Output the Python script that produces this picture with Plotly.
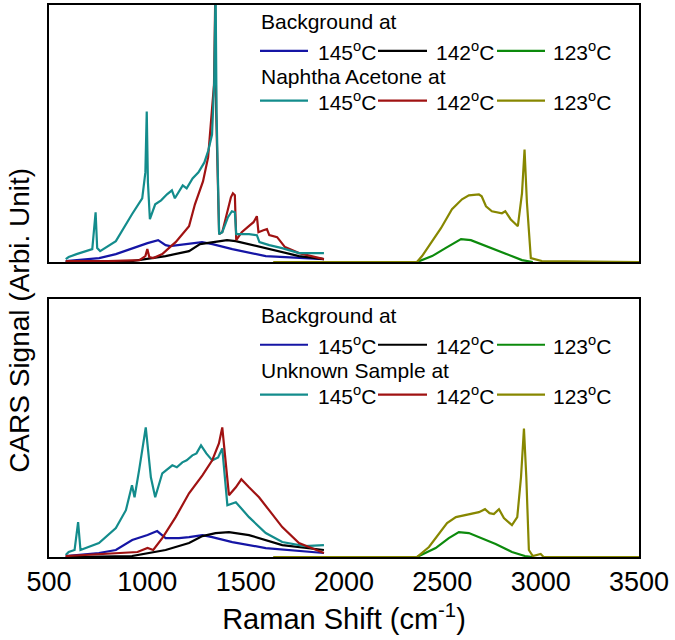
import plotly.graph_objects as go
from plotly.subplots import make_subplots

# ---------------- data (Raman shift cm^-1, arbitrary signal units) ----------------
# Top panel: background + Naphtha Acetone
top_bg145_x = [585, 755, 840, 922, 1001, 1055, 1093, 1115, 1160, 1212, 1278, 1331, 1432, 1602, 1898]
top_bg145_y = [1, 4, 8, 14, 19, 22, 17, 16, 17, 18, 20, 18, 13, 6, 3]
top_bg142_x = [585, 922, 1093, 1212, 1268, 1330, 1405, 1449, 1602, 1771, 1898]
top_bg142_y = [0, 1, 6, 11, 18, 20, 22, 21, 14, 6, 3]
top_bg123_x = [2371, 2448, 2516, 2595, 2645, 2722, 2820, 2905, 2960]
top_bg123_y = [0, 6, 14, 23, 22, 16, 8, 2, 0]

top_s145_x = [585, 600, 640, 720, 737, 745, 760, 840, 922, 974, 990, 997, 1003, 1013,
              1040, 1070, 1100, 1125, 1140, 1160, 1180, 1200, 1230, 1260, 1290, 1310, 1329,
              1340, 1347, 1352, 1365, 1381, 1410, 1430, 1445, 1452, 1517, 1557, 1570, 1620,
              1685, 1771, 1898]
top_s145_y = [3, 5, 8, 13, 50, 14, 11, 21, 48, 64, 90, 151, 80, 43,
              58, 62, 68, 72, 64, 70, 77, 74, 84, 90, 100, 112, 128,
              180, 275, 150, 28, 30, 45, 51, 50, 28, 28, 27, 20, 17,
              14, 9, 9]
top_s142_x = [585, 800, 960, 990, 1000, 1010, 1030, 1076, 1115, 1144, 1212, 1242, 1283, 1309,
              1339, 1345, 1350, 1365, 1381, 1400, 1425, 1435, 1445, 1452, 1480, 1522, 1540,
              1557, 1565, 1590, 1608, 1620, 1660, 1700, 1771, 1898]
top_s142_y = [1, 1, 2, 6, 13, 5, 4, 8, 15, 20, 36, 58, 81, 105,
              178, 262, 150, 28, 30, 45, 65, 69, 67, 22, 30, 37, 40,
              46, 30, 32, 33, 27, 25, 15, 9, 3]
top_s123_x = [1640, 2360, 2371, 2397, 2448, 2493, 2549, 2600, 2635, 2686, 2700, 2722, 2752,
              2803, 2820, 2847, 2884, 2905, 2918, 2930, 2950, 3006, 3500]
top_s123_y = [0, 0, 0, 6, 21, 34, 53, 63, 67, 68, 66, 56, 51,
              49, 51, 43, 36, 69, 113, 60, 4, 1, 0]

# Bottom panel: background + Unknown Sample
bot_bg145_x = [585, 754, 840, 923, 1001, 1050, 1093, 1161, 1212, 1280, 1330, 1432, 1602, 1898]
bot_bg145_y = [1, 4, 7, 17, 22, 26, 19, 19, 20, 22, 20, 15, 9, 4]
bot_bg142_x = [585, 922, 1093, 1212, 1280, 1347, 1415, 1517, 1686, 1898]
bot_bg142_y = [0, 1, 7, 14, 21, 24, 25, 22, 12, 7]
bot_bg123_x = [2371, 2466, 2533, 2584, 2635, 2686, 2771, 2854, 2920, 2960]
bot_bg123_y = [0, 9, 19, 25, 24, 20, 13, 5, 1, 0]

bot_s145_x = [585, 600, 630, 648, 660, 690, 754, 840, 891, 922, 935, 958, 992, 1018, 1040,
              1076, 1100, 1127, 1150, 1178, 1200, 1229, 1250, 1273, 1300, 1330, 1360, 1381,
              1407, 1450, 1517, 1602, 1686, 1800, 1898]
bot_s145_y = [2, 5, 7, 35, 7, 9, 14, 29, 47, 72, 60, 87, 130, 80, 60,
              84, 88, 92, 90, 95, 97, 102, 104, 112, 104, 97, 100, 109,
              52, 55, 40, 24, 15, 11, 12]
bot_s142_x = [585, 950, 1001, 1030, 1076, 1144, 1212, 1280, 1330, 1364, 1381, 1398, 1415,
              1450, 1478, 1517, 1568, 1619, 1686, 1771, 1898]
bot_s142_y = [1, 5, 9, 7, 19, 40, 64, 82, 97, 114, 130, 94, 62,
              70, 78, 70, 60, 47, 30, 14, 4]
bot_s123_x = [1640, 2360, 2371, 2432, 2483, 2524, 2569, 2635, 2686, 2717, 2740, 2762, 2788,
              2813, 2854, 2881, 2900, 2915, 2927, 2940, 2960, 3000, 3015, 3500]
bot_s123_y = [0, 0, 0, 10, 24, 34, 40, 43, 45, 48, 44, 43, 48,
              39, 32, 40, 80, 129, 80, 7, 1, 3, 0, 0]

x_ticks = [500, 1000, 1500, 2000, 2500, 3000, 3500]
temps = ["145<sup>o</sup>C", "142<sup>o</sup>C", "123<sup>o</sup>C"]
bg_colors = ["#1515A5", "#000000", "#0C8A0C"]
s_colors = ["#138C8C", "#A01212", "#878700"]

FONT = "Arial, Liberation Sans, sans-serif"

fig = make_subplots(rows=2, cols=1, vertical_spacing=0.0)

panels = [
    (1, [(top_bg145_x, top_bg145_y), (top_bg142_x, top_bg142_y), (top_bg123_x, top_bg123_y)],
        [(top_s142_x, top_s142_y, 1), (top_s145_x, top_s145_y, 0), (top_s123_x, top_s123_y, 2)]),
    (2, [(bot_bg145_x, bot_bg145_y), (bot_bg142_x, bot_bg142_y), (bot_bg123_x, bot_bg123_y)],
        [(bot_s145_x, bot_s145_y, 0), (bot_s142_x, bot_s142_y, 1), (bot_s123_x, bot_s123_y, 2)]),
]
for row, bgs, ss in panels:
    for (xs, ys), c, t in zip(bgs, bg_colors, temps):
        fig.add_trace(go.Scatter(x=xs, y=ys, mode="lines", line=dict(color=c, width=2.2),
                                 name="Background " + t, showlegend=False), row=row, col=1)
    for xs, ys, i in ss:
        fig.add_trace(go.Scatter(x=xs, y=ys, mode="lines", line=dict(color=s_colors[i], width=2.2),
                                 name=temps[i], showlegend=False), row=row, col=1)

# geometry (pixels -> paper)
L, R, T, B = 49, 36, 3, 83
W, H = 675, 640
pw, ph = W - L - R, H - T - B
def px(x):
    return (x - L) / pw
def py(y):
    return (H - B - y) / ph

top_dom = [py(261), py(3)]
bot_dom = [py(557), py(298)]

axis_common = dict(range=[500, 3500], showline=True, linecolor="black", linewidth=2,
                   mirror=True, showgrid=False, zeroline=False, layer="below traces")
fig.update_xaxes(**axis_common)
fig.update_xaxes(showticklabels=False, ticks="", row=1, col=1)
fig.update_xaxes(tickvals=x_ticks, ticks="", tickfont=dict(family=FONT, size=27, color="black"),
                 title=dict(text="Raman Shift (cm<sup>-1</sup>)", font=dict(family=FONT, size=29, color="black"),
                            standoff=12),
                 row=2, col=1)
yaxis_common = dict(showline=True, linecolor="black", linewidth=2, mirror=True, showgrid=False,
                    zeroline=False, showticklabels=False, ticks="", layer="below traces")
fig.update_yaxes(range=[0, 258], domain=top_dom, **yaxis_common, row=1, col=1)
fig.update_yaxes(range=[0, 259], domain=bot_dom, **yaxis_common, row=2, col=1)

shapes, annots = [], []
# custom legends
for off, header2 in [(0, "Naphtha Acetone at"), (295, "Unknown Sample at")]:
    rows = [("Background at", 20 + off, 49 + off, bg_colors),
            (header2, 75 + off, 99 + off, s_colors)]
    for head, hy, ly, cols in rows:
        annots.append(dict(x=px(259), y=py(hy), xref="paper", yref="paper", text=head,
                           showarrow=False, xanchor="left", yanchor="middle",
                           font=dict(family=FONT, size=21, color="black")))
        segs = [(260, 308, 316), (378, 427, 434), (497, 545, 551)]
        for (x0, x1, tx), c, t in zip(segs, cols, temps):
            shapes.append(dict(type="line", xref="paper", yref="paper", x0=px(x0), x1=px(x1),
                               y0=py(ly), y1=py(ly), line=dict(color=c, width=2.2)))
            annots.append(dict(x=px(tx), y=py(ly), xref="paper", yref="paper", text=t,
                               showarrow=False, xanchor="left", yanchor="middle",
                               font=dict(family=FONT, size=21, color="black")))

annots.append(dict(x=px(20), y=py(320), xref="paper", yref="paper",
                   text="CARS Signal (Arbi. Unit)", textangle=-90, showarrow=False,
                   xanchor="center", yanchor="middle",
                   font=dict(family=FONT, size=28, color="black")))

fig.update_layout(width=W, height=H, margin=dict(l=L, r=R, t=T, b=B),
                  paper_bgcolor="white", plot_bgcolor="white",
                  shapes=shapes, annotations=annots, showlegend=False)

fig.write_html("out.html", config={"displayModeBar": False},
               post_script="document.body.style.margin='0px';document.body.style.padding='0px';")
